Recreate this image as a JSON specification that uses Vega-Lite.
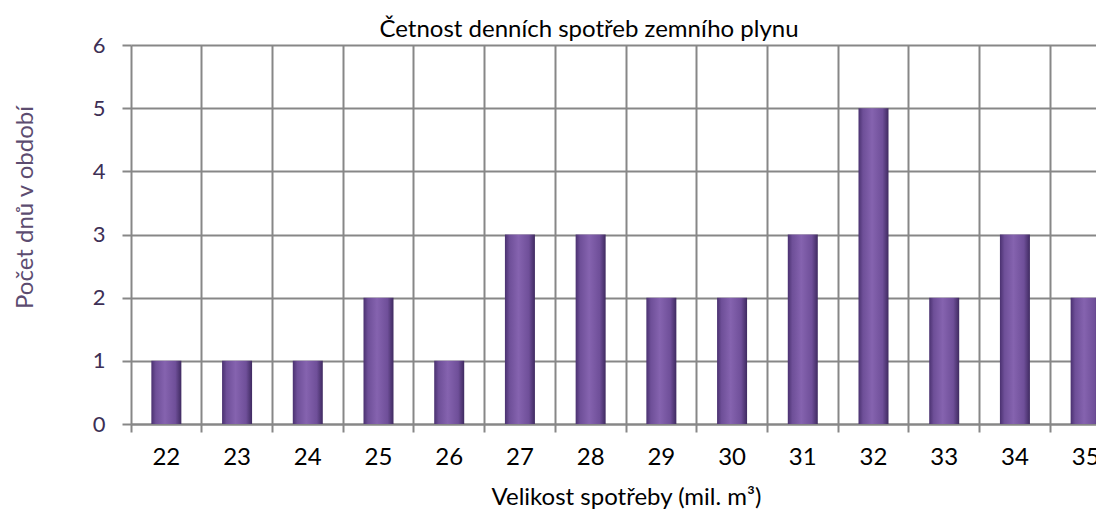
{
  "$schema": "https://vega.github.io/schema/vega-lite/v6.json",
  "autosize": {"type": "none"},
  "padding": {"left": 131, "top": 45, "right": 0, "bottom": 87},
  "width": 990,
  "height": 379,
  "background": "white",
  "title": {
    "text": "Četnost denních spotřeb zemního plynu",
    "font": "Lato",
    "fontSize": 24,
    "fontWeight": "normal",
    "color": "#000000",
    "anchor": "middle",
    "frame": "group",
    "dx": -37,
    "offset": -8
  },
  "data": {
    "values": [
      {"spotreba": "22", "dny": 1},
      {"spotreba": "23", "dny": 1},
      {"spotreba": "24", "dny": 1},
      {"spotreba": "25", "dny": 2},
      {"spotreba": "26", "dny": 1},
      {"spotreba": "27", "dny": 3},
      {"spotreba": "28", "dny": 3},
      {"spotreba": "29", "dny": 2},
      {"spotreba": "30", "dny": 2},
      {"spotreba": "31", "dny": 3},
      {"spotreba": "32", "dny": 5},
      {"spotreba": "33", "dny": 2},
      {"spotreba": "34", "dny": 3},
      {"spotreba": "35", "dny": 2}
    ]
  },
  "config": {
    "view": {"stroke": null},
    "font": "Lato"
  },
  "mark": {
    "type": "bar",
    "width": 30,
    "color": {
      "gradient": "linear",
      "x1": 0, "x2": 1, "y1": 0, "y2": 0,
      "stops": [
        {"offset": 0, "color": "#4a3170"},
        {"offset": 0.15, "color": "#6e4f98"},
        {"offset": 0.45, "color": "#8563af"},
        {"offset": 0.8, "color": "#6f4f99"},
        {"offset": 1, "color": "#3f2a60"}
      ]
    }
  },
  "encoding": {
    "x": {
      "field": "spotreba",
      "type": "ordinal",
      "sort": null,
      "scale": {"paddingInner": 0, "paddingOuter": 0},
      "axis": {
        "title": "Velikost spotřeby (mil. m³)",
        "titleFont": "Lato",
        "titleFontSize": 24,
        "titleFontWeight": "normal",
        "titleColor": "#000000",
        "titlePadding": 16,
        "labelAngle": 0,
        "labelFont": "Lato",
        "labelFontSize": 24,
        "labelColor": "#000000",
        "labelPadding": 13,
        "bandPosition": 0,
        "grid": true,
        "gridColor": "#878787",
        "gridWidth": 2,
        "gridOpacity": 1,
        "ticks": true,
        "tickSize": 8,
        "tickColor": "#878787",
        "tickWidth": 2,
        "domain": true,
        "domainColor": "#878787",
        "domainWidth": 2
      }
    },
    "y": {
      "field": "dny",
      "type": "quantitative",
      "scale": {"domain": [0, 6]},
      "axis": {
        "title": "Počet dnů v období",
        "titleFont": "Lato",
        "titleFontSize": 24,
        "titleFontWeight": "normal",
        "titleColor": "#5c4c70",
        "titlePadding": 55,
        "titleY": 162,
        "values": [0, 1, 2, 3, 4, 5, 6],
        "labelFont": "Lato",
        "labelFontSize": 22,
        "labelColor": "#3d2f55",
        "labelPadding": 17,
        "grid": true,
        "gridColor": "#878787",
        "gridWidth": 2,
        "gridOpacity": 1,
        "tickSize": 9,
        "tickColor": "#878787",
        "tickWidth": 2,
        "domain": false
      }
    }
  }
}
